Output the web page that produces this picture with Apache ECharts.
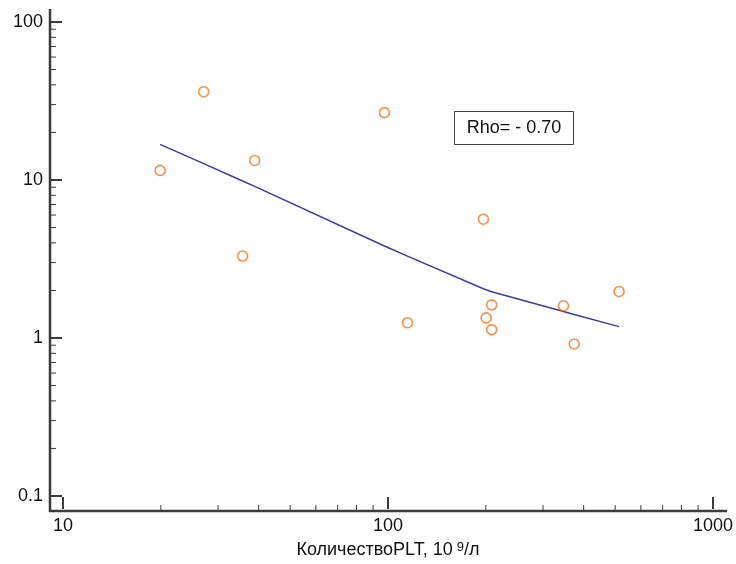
<!DOCTYPE html>
<html>
<head>
<meta charset="utf-8">
<script src="https://cdn.jsdelivr.net/npm/echarts@6/dist/echarts.min.js"></script>
<style>html,body{margin:0;padding:0;background:#fff}#c{width:736px;height:564px}</style>
</head>
<body>
<div id="c"></div>
<script>
// Data
const pltCount = [19.9, 27.1, 38.9, 35.7, 97.5, 114.8, 196.6, 208.5, 200.5, 208.5, 346.7, 374, 514];
const values   = [11.5, 36.2, 13.3, 3.30, 26.7, 1.25, 5.65, 1.62, 1.34, 1.13, 1.60, 0.917, 1.97];
const fitX = [19.9, 27.1, 35.7, 38.9, 97.5, 114.8, 196.6, 200.5, 208.5, 346.7, 374, 514];
const fitY = [16.8, 12.7, 9.86, 9.12, 3.82, 3.30, 2.05, 2.02, 1.96, 1.47, 1.41, 1.18];
const xMinorTicks = [20, 30, 40, 50, 60, 70, 80, 90, 200, 300, 400, 500, 600, 700, 800, 900];
const yMinorTicks = [0.2, 0.3, 0.4, 0.5, 0.6, 0.7, 0.8, 0.9, 2, 3, 4, 5, 6, 7, 8, 9, 20, 30, 40, 50, 60, 70, 80, 90];
const xRange = [10, 1000];
const yRange = [0.1, 100];
const rhoText = 'Rho= - 0.70';
const xName = 'КоличествоPLT, 10{sup|9}/л';

// Layout
const G = {left: 63, right: 22, top: 22, bottom: 66};
const W = 736, H = 564;
const OFF = 13;
const axisColor = '#3c3c3c';
const textColor = '#111';
const font = 'Liberation Sans, Arial, sans-serif';

const axisX = G.left - OFF;          // vertical axis line x
const axisY = H - G.bottom + OFF;    // horizontal axis line y

const chart = echarts.init(document.getElementById('c'), null, {renderer: 'canvas'});

function fmt(v) {
  return String(Math.round(v * 1000) / 1000);
}

function minorTickSeries(list, isX) {
  return {
    type: 'custom',
    silent: true,
    clip: false,
    data: list.map(v => isX ? [v, 1] : [100, v]),
    renderItem: function (params, api) {
      const p = api.coord([api.value(0), api.value(1)]);
      if (isX) {
        return {type: 'line', shape: {x1: p[0], y1: axisY, x2: p[0], y2: axisY - 6},
          style: {stroke: axisColor, lineWidth: 1}};
      }
      return {type: 'line', shape: {x1: axisX, y1: p[1], x2: axisX + 6, y2: p[1]},
        style: {stroke: axisColor, lineWidth: 1}};
    }
  };
}

const option = {
  animation: false,
  backgroundColor: '#fff',
  grid: {left: G.left, right: G.right, top: G.top, bottom: G.bottom, containLabel: false},
  xAxis: {
    type: 'log', logBase: 10, min: xRange[0], max: xRange[1],
    offset: OFF,
    axisLine: {show: false},
    axisTick: {show: true, inside: true, length: 12, lineStyle: {color: axisColor, width: 2}},
    axisLabel: {color: textColor, fontSize: 18, fontFamily: font, margin: 8, formatter: fmt},
    splitLine: {show: false},
    name: xName,
    nameLocation: 'middle',
    nameGap: 32,
    nameTextStyle: {color: textColor, fontSize: 18, fontFamily: font,
      rich: {sup: {fontSize: 13, fontFamily: font, color: textColor, verticalAlign: 'top', padding: [0, 0, 0, 4]}}}
  },
  yAxis: {
    type: 'log', logBase: 10, min: yRange[0], max: yRange[1],
    offset: OFF,
    axisLine: {show: false},
    axisTick: {show: true, inside: true, length: 12, lineStyle: {color: axisColor, width: 2}},
    axisLabel: {color: textColor, fontSize: 18, fontFamily: font, margin: 7, formatter: fmt},
    splitLine: {show: false}
  },
  graphic: [
    {type: 'line', silent: true, shape: {x1: axisX, y1: G.top - OFF, x2: axisX, y2: axisY + 1},
      style: {stroke: axisColor, lineWidth: 2.5}},
    {type: 'line', silent: true, shape: {x1: axisX - 1, y1: axisY, x2: W - G.right + OFF, y2: axisY},
      style: {stroke: axisColor, lineWidth: 2.5}},
    {type: 'group', left: 454, top: 111, children: [
      {type: 'rect', shape: {x: 0, y: 0, width: 119, height: 33},
        style: {fill: '#fff', stroke: '#404040', lineWidth: 1}},
      {type: 'text', x: 59.5, y: 17, style: {text: rhoText, font: '18px ' + font, fill: textColor,
        align: 'center', verticalAlign: 'middle'}}
    ]}
  ],
  series: [
    minorTickSeries(xMinorTicks, true),
    minorTickSeries(yMinorTicks, false),
    {
      type: 'line',
      data: fitX.map((x, i) => [x, fitY[i]]),
      showSymbol: false, symbol: 'none',
      lineStyle: {color: '#3b3ba6', width: 1.5},
      z: 3
    },
    {
      type: 'scatter',
      data: pltCount.map((x, i) => [x, values[i]]),
      symbol: 'circle', symbolSize: 10,
      itemStyle: {color: 'rgba(255,255,255,0)', borderColor: '#f7731c', borderWidth: 1.6},
      z: 4
    }
  ]
};
chart.setOption(option);
</script>
</body>
</html>
